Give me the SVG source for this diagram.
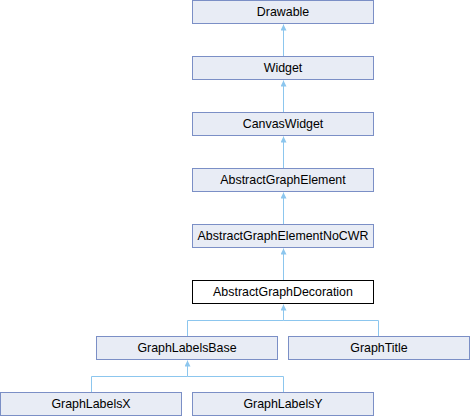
<svg xmlns="http://www.w3.org/2000/svg" width="470" height="416" viewBox="0 0 470 416">
<style>
.n rect{fill:#e8ecf5;stroke:#7b8fc6;stroke-width:1}
.n.cur rect{fill:#ffffff;stroke:#000000}
.n text{font-family:"Liberation Sans",Arial,sans-serif;font-size:12.4px;fill:#000;text-anchor:middle}
.e path{fill:none;stroke:#8cc6ee;stroke-width:1;marker-start:url(#arr)}
.e path.plain{marker-start:none}
</style>
<defs>
<marker id="arr" viewBox="0 0 6 6" refX="6" refY="3" markerWidth="6" markerHeight="6" markerUnits="userSpaceOnUse" orient="auto-start-reverse">
<path d="M0,0 L6,3 L0,6 z" fill="#8cc6ee" stroke="none"/>
</marker>
</defs>
<g class="e" id="connectors">
<path d="M283.5,24.5 V56.5"/>
<path d="M283.5,80.5 V112.5"/>
<path d="M283.5,136.5 V168.5"/>
<path d="M283.5,192.5 V224.5"/>
<path d="M283.5,248.5 V280.5"/>
<path d="M283.5,304.5 V320.5 H187.5 V336.5"/>
<path class="plain" d="M283.5,320.5 H378.5 V336.5"/>
<path d="M187.5,360.5 V376.5 H91.5 V392.5"/>
<path class="plain" d="M187.5,376.5 H283.5 V392.5"/>
</g>
<g class="n" id="Drawable"><rect x="192.5" y="0.5" width="181" height="23"/><text x="283" y="16">Drawable</text></g>
<g class="n" id="Widget"><rect x="192.5" y="56.5" width="181" height="23"/><text x="283" y="72">Widget</text></g>
<g class="n" id="CanvasWidget"><rect x="192.5" y="112.5" width="181" height="23"/><text x="283" y="128">CanvasWidget</text></g>
<g class="n" id="AbstractGraphElement"><rect x="192.5" y="168.5" width="181" height="23"/><text x="283" y="184">AbstractGraphElement</text></g>
<g class="n" id="AbstractGraphElementNoCWR"><rect x="192.5" y="224.5" width="181" height="23"/><text x="283" y="240">AbstractGraphElementNoCWR</text></g>
<g class="n cur" id="AbstractGraphDecoration"><rect x="192.5" y="280.5" width="181" height="23"/><text x="283" y="296">AbstractGraphDecoration</text></g>
<g class="n" id="GraphLabelsBase"><rect x="96.5" y="336.5" width="181" height="23"/><text x="187" y="352">GraphLabelsBase</text></g>
<g class="n" id="GraphTitle"><rect x="288.5" y="336.5" width="181" height="23"/><text x="379" y="352">GraphTitle</text></g>
<g class="n" id="GraphLabelsX"><rect x="0.5" y="392.5" width="181" height="23"/><text x="91" y="408">GraphLabelsX</text></g>
<g class="n" id="GraphLabelsY"><rect x="192.5" y="392.5" width="181" height="23"/><text x="283" y="408">GraphLabelsY</text></g>
</svg>
